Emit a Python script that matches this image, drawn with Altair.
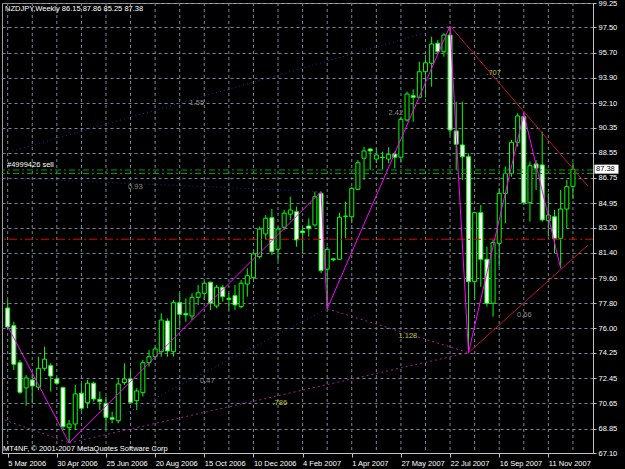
import json
import altair as alt
import pandas as pd

# ---- weekly OHLC (NZDJPY), bar index 0 = week of 5 Mar 2006 ----
opens = [77.46, 76.20, 73.55, 71.75, 72.32, 71.80, 73.15, 73.34, 72.39, 71.77,
         68.91, 69.17, 71.37, 70.69, 72.08, 70.94, 70.65, 69.62, 69.41, 72.13,
         72.39, 70.84, 71.41, 73.55, 73.98, 74.34, 76.53, 74.34, 77.84, 77.06,
         76.89, 78.22, 78.51, 79.30, 77.60, 78.94, 78.15, 78.34, 77.56, 79.17,
         79.63, 81.13, 82.75, 83.91, 81.65, 83.23, 84.16, 84.34, 82.96, 83.32,
         83.39, 85.65, 80.23, 80.97, 80.94, 83.99, 83.98, 85.94, 88.16, 88.82,
         88.10, 88.22, 88.10, 88.46, 88.23, 90.89, 92.63, 92.51, 94.34, 94.94,
         96.37, 95.77, 96.96, 90.11, 89.11, 88.27, 79.34, 84.27, 80.94, 77.80,
         82.08, 85.65, 87.08, 89.30, 91.13, 84.98, 87.75, 87.68, 83.70, 83.98,
         82.44, 84.53, 86.15]
highs = [78.03, 76.48, 73.75, 72.67, 72.82, 73.98, 74.70, 73.51, 72.55, 71.84,
         69.46, 71.96, 72.08, 72.32, 72.20, 71.49, 71.13, 70.05, 72.43, 73.51,
         73.15, 71.72, 73.75, 74.46, 74.70, 77.08, 76.72, 78.03, 78.51, 78.15,
         78.51, 79.10, 79.34, 79.34, 79.10, 79.10, 78.51, 79.10, 79.46, 80.30,
         81.48, 83.27, 84.10, 84.53, 83.27, 84.46, 85.41, 84.70, 83.27, 83.87,
         85.77, 85.77, 81.84, 81.01, 84.27, 85.05, 86.13, 88.03, 88.98, 88.87,
         88.87, 88.63, 88.94, 88.63, 91.13, 92.91, 93.09, 95.06, 95.54, 96.84,
         96.61, 97.09, 97.61, 92.20, 92.20, 88.51, 84.34, 84.82, 81.84, 82.32,
         86.01, 87.56, 89.46, 91.37, 91.37, 87.92, 88.03, 90.06, 85.65, 84.46,
         85.89, 86.61, 87.86]
lows = [75.95, 73.03, 71.32, 70.48, 70.67, 71.60, 72.98, 71.49, 71.96, 68.74,
        67.82, 68.74, 70.12, 70.30, 70.77, 70.17, 68.74, 69.22, 69.22, 71.96,
        70.65, 70.17, 71.13, 73.27, 73.75, 73.98, 73.98, 73.98, 76.12, 76.48,
        76.60, 77.68, 78.03, 77.32, 77.44, 77.91, 77.32, 77.32, 77.44, 78.27,
        79.46, 81.01, 82.32, 81.25, 80.82, 83.03, 83.75, 81.84, 81.37, 82.56,
        83.27, 79.94, 77.40, 80.80, 80.89, 82.44, 83.51, 85.89, 86.61, 87.32,
        87.80, 87.37, 87.80, 87.44, 87.84, 90.77, 90.77, 92.44, 92.51, 93.27,
        95.66, 95.41, 89.82, 87.32, 86.61, 74.27, 78.03, 78.98, 77.56, 76.84,
        80.41, 83.51, 86.84, 88.98, 84.82, 83.63, 85.89, 83.63, 82.56, 81.37,
        80.30, 83.15, 85.25]
closes = [76.10, 73.44, 71.44, 72.46, 71.89, 73.15, 73.80, 72.60, 72.08, 68.98,
          69.17, 71.32, 70.30, 72.08, 70.96, 70.77, 69.65, 69.51, 72.03, 72.39,
          70.72, 71.53, 73.55, 73.98, 74.53, 76.60, 74.39, 77.84, 77.01, 76.97,
          78.22, 78.55, 79.23, 77.80, 78.94, 78.27, 78.08, 77.68, 79.23, 79.77,
          81.32, 83.10, 83.87, 81.48, 83.10, 84.23, 84.46, 82.32, 82.84, 83.13,
          85.41, 80.13, 81.65, 80.90, 83.94, 84.03, 86.01, 87.84, 88.68, 88.68,
          88.39, 88.20, 88.44, 88.23, 90.94, 92.75, 92.51, 94.34, 94.98, 96.32,
          95.77, 96.96, 90.18, 89.16, 88.27, 79.34, 84.27, 80.94, 77.80, 82.13,
          85.65, 87.08, 89.30, 91.18, 84.98, 87.63, 87.45, 83.75, 84.10, 82.44,
          84.53, 86.13, 87.38]

date_labels = ["5 Mar 2006", "30 Apr 2006", "25 Jun 2006", "20 Aug 2006",
               "15 Oct 2006", "10 Dec 2006", "4 Feb 2007", "1 Apr 2007",
               "27 May 2007", "22 Jul 2007", "16 Sep 2007", "11 Nov 2007"]
price_ticks = [99.25, 97.50, 95.70, 93.90, 92.10, 90.35, 88.55, 86.75, 84.95,
               83.20, 81.40, 79.60, 77.80, 76.00, 74.25, 72.45, 70.65, 68.85, 67.10]

# ZigZag vertices
zz_idx = [0, 10, 51, 52, 72, 75, 84, 90]
zz_px = [76.15, 67.82, 85.77, 77.40, 97.61, 74.27, 91.37, 80.30]

# triangle trend lines (red)
tri_seg = ["up", "up", "lo", "lo"]
tri_idx = [72, 94.45, 75, 94.45]
tri_px = [97.61, 86.16, 74.27, 81.96]

# dotted ratio lines
blue_seg = ["a", "a", "b", "b", "c", "c"]
blue_idx = [-0.5, 72, -0.5, 51, 10, 52]
blue_px = [88.52, 97.61, 86.75, 85.77, 67.82, 77.40]
mag_seg = ["d", "d", "e", "e", "f", "f"]
mag_idx = [10, 75, 52, 75, -0.5, 10]
mag_px = [67.82, 74.27, 77.40, 74.27, 69.46, 67.82]

# ratio labels
lab_text = ["1.55", "0.93", "0.47", ".786", "1.128", "2.42", ".707", "0.66"]
lab_idx = [29.6, 19.6, 31.3, 43.1, 63.6, 62.0, 77.9, 82.9]
lab_px = [92.11, 86.10, 72.25, 70.67, 75.46, 91.39, 94.23, 76.96]
lab_col = ["#8c8c8c", "#8c8c8c", "#8c8c8c", "#b5c838", "#b5c838", "#8c8c8c",
           "#b5c838", "#8c8c8c"]

# horizontal levels
stop_level = [82.37]
order_levels = [87.32, 87.07]
current_price = [87.38]

FONT = "Liberation Sans"
FS = 7.5
GRID = "#778899"

df = pd.DataFrame({"i": list(range(len(opens))), "open": opens, "high": highs,
                   "low": lows, "close": closes})

xs = alt.Scale(domain=[-0.11, 94.45], nice=False, zero=False)
ys = alt.Scale(domain=[67.10, 99.25], nice=False, zero=False)

label_expr = json.dumps(date_labels) + "[datum.value / 8]"

XA = alt.Axis(orient="bottom", values=list(range(0, 89, 8)), labelExpr=label_expr,
              labelAlign="left", labelFlush=False, labelOverlap=False,
              grid=False, tickSize=4, tickColor="#c0c0c0", domainColor="#c0c0c0",
              labelColor="white", labelFont=FONT, labelFontSize=FS, labelPadding=2,
              labelBaseline="top", title=None)
YA = alt.Axis(orient="right", values=price_ticks, format=".2f", grid=True,
              gridColor=GRID, gridDash=[3, 3], gridOpacity=1, gridWidth=1, tickSize=3,
              tickColor="#c0c0c0", domainColor="#c0c0c0", labelColor="white",
              labelFont=FONT, labelFontSize=FS, labelPadding=2, labelOverlap=False,
              labelFlush=False, title=None)


def X(field):
    return alt.X(field, scale=xs, axis=XA, title=None)


def Y(field):
    return alt.Y(field, scale=ys, axis=YA, title=None)


vgrid = alt.Chart(pd.DataFrame({"g": list(range(0, 93, 4))})).mark_rule(
    color=GRID, strokeDash=[3, 3], strokeWidth=1
).encode(x=X("g:Q"))

wicks = alt.Chart(df).mark_rule(color="#00ff00", strokeWidth=1, clip=True).encode(
    x=X("i:Q"), y=Y("low:Q"), y2="high:Q")
bodies = alt.Chart(df).mark_bar(width=4, stroke="#00ff00", strokeWidth=1, clip=True).encode(
    x=X("i:Q"), y=Y("open:Q"), y2="close:Q",
    fill=alt.condition("datum.close < datum.open", alt.value("white"), alt.value("black")),
)

stop_line = alt.Chart(pd.DataFrame({"p": stop_level})).mark_rule(
    color="#e00000", strokeDash=[8, 3, 2, 3]).encode(y=Y("p:Q"))
ord_line = alt.Chart(pd.DataFrame({"p": order_levels})).mark_rule(
    color="#00a000", strokeDash=[6, 3, 2, 3]).encode(y=Y("p:Q"))

zz_df = pd.DataFrame({"i": zz_idx, "p": zz_px, "k": list(range(len(zz_idx)))})
zigzag = alt.Chart(zz_df).mark_line(color="#ff00ff", strokeWidth=1, clip=True).encode(
    x=X("i:Q"), y=Y("p:Q"), order="k:Q")

tri = alt.Chart(pd.DataFrame({"s": tri_seg, "i": tri_idx, "p": tri_px})).mark_line(
    color="#c0103a", strokeWidth=1, clip=True).encode(x=X("i:Q"), y=Y("p:Q"), detail="s:N")

blue = alt.Chart(pd.DataFrame({"s": blue_seg, "i": blue_idx, "p": blue_px})).mark_line(
    color="#2828b0", strokeWidth=1, strokeDash=[1, 3], clip=True).encode(
    x=X("i:Q"), y=Y("p:Q"), detail="s:N")

mag = alt.Chart(pd.DataFrame({"s": mag_seg, "i": mag_idx, "p": mag_px})).mark_line(
    color="#a020a0", strokeWidth=1, strokeDash=[2, 3], clip=True).encode(
    x=X("i:Q"), y=Y("p:Q"), detail="s:N")

lab_df = pd.DataFrame({"t": lab_text, "i": lab_idx, "p": lab_px, "c": lab_col})
labels = alt.Chart(lab_df).mark_text(font=FONT, fontSize=FS, align="left", baseline="middle").encode(
    x=X("i:Q"), y=Y("p:Q"), text="t:N", color=alt.Color("c:N", scale=None))

cur_df = pd.DataFrame({"p": current_price, "t": ["%.2f" % v for v in current_price]})
cur_box = alt.Chart(cur_df).mark_tick(orient="horizontal", size=24, thickness=9, color="white",
                                      opacity=1).encode(x=alt.value(604.5), y=Y("p:Q"))
cur_txt = alt.Chart(cur_df).mark_text(font=FONT, fontSize=FS, align="left", baseline="middle",
                                      color="black").encode(
    x=alt.value(594), y=Y("p:Q"), text="t:N")

title_txt = alt.Chart(pd.DataFrame({"t": ["NZDJPY,Weekly  86.15 87.86 85.25 87.38"]})).mark_text(
    font=FONT, fontSize=FS, align="left", baseline="middle", color="white").encode(
    x=alt.value(3), y=alt.value(5.5), text="t:N")
order_txt = alt.Chart(pd.DataFrame({"t": ["#4999426 sell"]})).mark_text(
    font=FONT, fontSize=FS, align="left", baseline="middle", color="white").encode(
    x=alt.value(5), y=alt.value(162), text="t:N")
copy_txt = alt.Chart(pd.DataFrame({"t": ["MT4NF, © 2001-2007 MetaQuotes Software Corp"]})).mark_text(
    font=FONT, fontSize=FS, align="left", baseline="middle", color="white").encode(
    x=alt.value(1), y=alt.value(446), text="t:N")

chart = alt.layer(
    wicks, vgrid, bodies, stop_line, ord_line, blue, mag, zigzag, tri, labels,
    cur_box, cur_txt, title_txt, order_txt, copy_txt
).properties(
    width=591, height=450,
    padding={"left": 2, "top": 3, "right": 32, "bottom": 16},
    autosize=alt.AutoSizeParams(type="none"),
    background="black",
).configure_view(stroke="#a0a0a0", strokeWidth=1, fill="black")

chart.save("out.html", embed_options={"renderer": "svg", "actions": False})
